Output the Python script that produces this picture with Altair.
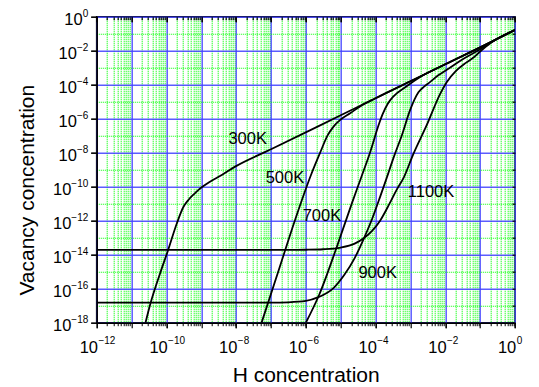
import altair as alt
import numpy as np
import pandas as pd

# ---- values (log10 of H concentration / vacancy concentration)
temps = ["300K", "500K", "700K", "900K", "1100K"]

log_h_300 = [-10.60, -10.47, -10.18, -9.95, -9.70, -9.51, -9.37, -9.20, -9.08, -8.75, -8.40, -8.03, -7.0, -5.0, -3.0, -1.0, 0.0]
log_v_300 = [-18.0, -16.96, -15.09, -13.72, -12.15, -11.18, -10.78, -10.42, -10.19, -9.71, -9.30, -8.82, -7.80, -5.80, -3.80, -1.80, -0.78]

log_h_500 = [-7.27, -6.80, -6.30, -5.85, -5.59, -5.38, -5.20, -5.00, -4.73, -4.40, -4.00, -3.0, -2.0, -1.0, 0.0]
log_v_500 = [-18.0, -15.05, -11.90, -9.30, -8.00, -7.00, -6.45, -6.05, -5.68, -5.22, -4.80, -3.80, -2.80, -1.80, -0.78]

log_h_700 = [-6.00, -5.62, -5.11, -4.68, -4.42, -4.16, -3.90, -3.80, -3.65, -3.50, -3.10, -2.72, -2.0, -1.0, 0.0]
log_v_700 = [-18.0, -16.37, -13.53, -10.98, -9.50, -8.00, -6.30, -5.75, -5.12, -4.72, -4.08, -3.55, -2.80, -1.82, -0.78]

log_h_900 = [-12.0, -7.0, -6.5, -6.0, -5.64, -5.20, -4.90, -4.60, -4.33, -4.10, -3.87, -3.70, -3.45, -3.25, -3.01, -2.77, -2.60, -2.44, -2.20, -1.90, -1.50, -1.0, -0.7, 0.0]
log_v_900 = [-16.82, -16.82, -16.80, -16.72, -16.50, -15.95, -15.20, -14.20, -13.02, -11.90, -10.60, -9.60, -8.10, -7.00, -5.50, -4.45, -4.10, -3.85, -3.45, -3.05, -2.50, -1.92, -1.52, -0.78]

log_h_1100 = [-12.0, -6.5, -6.0, -5.5, -5.0, -4.6, -4.33, -4.10, -3.87, -3.60, -3.40, -3.20, -2.92, -2.53, -2.15, -1.96, -1.70, -1.40, -1.19, -1.0, -0.7, 0.0]
log_v_1100 = [-13.72, -13.72, -13.71, -13.68, -13.58, -13.35, -13.02, -12.60, -12.00, -11.00, -10.20, -9.50, -8.10, -6.37, -4.55, -3.85, -3.20, -2.70, -2.40, -2.05, -1.55, -0.78]

label_text = ["300K", "500K", "700K", "900K", "1100K"]
label_log_h = [-7.67, -6.60, -5.54, -3.94, -2.41]
label_log_v = [-7.19, -9.46, -11.71, -15.09, -10.29]

x_decades = list(range(-12, 1))
y_decades = list(range(-18, 1))

# ---- tables
series = {
    "300K": (log_h_300, log_v_300),
    "500K": (log_h_500, log_v_500),
    "700K": (log_h_700, log_v_700),
    "900K": (log_h_900, log_v_900),
    "1100K": (log_h_1100, log_v_1100),
}
rows = []
for t in temps:
    lh, lv = series[t]
    for a, b in zip(lh, lv):
        rows.append({"T": t, "h": 10.0 ** a, "v": 10.0 ** b})
df = pd.DataFrame(rows)

labels = pd.DataFrame({
    "text": label_text,
    "h": [10.0 ** a for a in label_log_h],
    "v": [10.0 ** b for b in label_log_v],
})

x_major = [10.0 ** k for k in x_decades]
x_even = [10.0 ** k for k in x_decades if k % 2 == 0]
x_minor = [d * 10.0 ** k for k in x_decades[:-1] for d in range(2, 10)]
y_major = [10.0 ** k for k in y_decades if k % 2 == 0]
y_minor = [10.0 ** k for k in y_decades if k % 2 != 0]
y_all = [10.0 ** k for k in y_decades]
# y labels grouped by the length of their exponent ("0", "-2".."-8", "-10".."-18")
y_lab_a = [10.0 ** k for k in [0]]
y_lab_b = [10.0 ** k for k in [-2, -4, -6, -8]]
y_lab_c = [10.0 ** k for k in [-10, -12, -14, -16, -18]]

FONT = "Liberation Sans"
BLUE = "#4040ff"
GREEN = "#00ff00"
BASE_FS = 16.5
EXP_FS = 10

TEN_X = "round(log(datum.value)/LN10) % 2 == 0 ? '10' : ''"
EXP_EXPR = "format(round(log(datum.value)/LN10), 'd')"

xscale = alt.Scale(type="log", domain=[1e-12, 1], nice=False)
yscale = alt.Scale(type="log", domain=[1e-18, 1], nice=False)


def ten_y(values, pad):
    return alt.Axis(
        orient="left", values=values, labelExpr="'10'", labelFontSize=BASE_FS,
        labelFont=FONT, labelColor="black", labelAlign="right", labelBaseline="middle",
        labelOffset=3.0, labelPadding=pad, labelOverlap=False, labelFlush=False,
        tickSize=6, tickColor="black", tickWidth=1.2, domain=False, grid=False, title="")


def top_axis(values, size):
    return alt.Axis(
        orient="top", values=values, labels=False, tickSize=size, tickColor="black",
        tickWidth=1.2, offset=-size, domain=False, grid=False, title="")


right_axis = alt.Axis(
    orient="right", values=y_all, labels=False, tickSize=3, tickColor="black",
    tickWidth=1.2, offset=-3, domain=False, grid=False, title="")

# layer 1: temperature labels (+ green dotted minor grid)
texts = alt.Chart(labels).mark_text(
    font=FONT, fontSize=16.5, color="black", align="center", baseline="middle"
).encode(
    x=alt.X("h:Q", scale=xscale, axis=alt.Axis(
        orient="bottom", values=x_minor, labels=False, tickSize=3, tickColor="black",
        domain=False, grid=True, gridColor=GREEN, gridDash=[1, 1], gridWidth=1.1,
        gridOpacity=1, title="")),
    y=alt.Y("v:Q", scale=yscale, axis=alt.Axis(
        orient="left", values=y_minor, labels=False, ticks=False,
        domain=False, grid=True, gridColor=GREEN, gridDash=[1, 1], gridWidth=1.1,
        gridOpacity=1, title="")),
    text="text:N",
)

# layer 2: the curves (+ blue x grid, "10" parts of the labels)
lines = alt.Chart(df).mark_line(
    color="black", strokeWidth=1.8, clip=True, interpolate="monotone"
).encode(
    x=alt.X("h:Q", scale=xscale, axis=alt.Axis(
        orient="bottom", values=x_major, labelExpr=TEN_X,
        labelOverlap=False, labelFlush=False, labelFontSize=BASE_FS, labelPadding=11.7,
        labelAlign="right", labelOffset=0.8,
        labelColor="black", labelFont=FONT,
        tickSize=5, tickColor="black", tickWidth=1.2,
        domainColor="black", domainWidth=1.5,
        grid=True, gridColor=BLUE, gridWidth=1.5, gridOpacity=0.85,
        title="H concentration", titleFontSize=21, titleFontWeight="normal",
        titleFont=FONT, titleColor="black", titleX=209, titleY=58.5,
        titleBaseline="alphabetic", titleAlign="center")),
    y=alt.Y("v:Q", scale=yscale, axis=ten_y(y_lab_c, 19.9)),
    detail="T:N",
)

# layer 3: exponents of the labels (+ blue y grid, y title)
exps = alt.Chart(labels).mark_point(opacity=0).encode(
    x=alt.X("h:Q", scale=xscale, axis=alt.Axis(
        orient="bottom", values=x_even, labelExpr=EXP_EXPR,
        labelOverlap=False, labelFlush=False, labelFontSize=EXP_FS, labelPadding=8.3,
        labelAlign="left", labelOffset=1.2, labelColor="black", labelFont=FONT,
        tickSize=5, tickColor="black", tickWidth=1.2, domain=False, grid=False, title="")),
    y=alt.Y("v:Q", scale=yscale, axis=alt.Axis(
        orient="left", values=y_major, labelExpr=EXP_EXPR,
        labelOverlap=False, labelFlush=False, labelFontSize=EXP_FS, labelPadding=2.9,
        labelAlign="right", labelBaseline="middle", labelOffset=-3.6,
        labelColor="black", labelFont=FONT,
        tickSize=6, tickColor="black", tickWidth=1.2,
        domainColor="black", domainWidth=1.5,
        grid=True, gridColor=BLUE, gridWidth=1.5, gridOpacity=0.85,
        title="Vacancy concentration", titleFontSize=21, titleFontWeight="normal",
        titleFont=FONT, titleColor="black", titleAngle=270, titleX=-63.7, titleY=173,
        titleBaseline="alphabetic", titleAlign="center")),
)

# layers 4-6: inner ticks on top/right and the remaining "10" label groups
extra_a = alt.Chart(labels).mark_point(opacity=0).encode(
    x=alt.X("h:Q", scale=xscale, axis=top_axis(x_major, 5)),
    y=alt.Y("v:Q", scale=yscale, axis=ten_y(y_lab_a, 8.5)),
)
extra_b = alt.Chart(labels).mark_point(opacity=0).encode(
    x=alt.X("h:Q", scale=xscale, axis=top_axis(x_minor, 3)),
    y=alt.Y("v:Q", scale=yscale, axis=ten_y(y_lab_b, 14.3)),
)
extra_c = alt.Chart(labels).mark_point(opacity=0).encode(
    x=alt.X("h:Q", scale=xscale, axis=top_axis(x_major, 5)),
    y=alt.Y("v:Q", scale=yscale, axis=right_axis),
)

chart = alt.layer(texts, lines, exps, extra_a, extra_b, extra_c).resolve_axis(
    x="independent", y="independent"
).properties(
    width=418.3, height=306,
    padding={"left": 96.7, "top": 16.7, "right": 24, "bottom": 64},
    autosize=alt.AutoSizeParams(type="none"),
    background="white",
).configure_view(stroke="black", strokeWidth=1.6)

chart.save("out.html", embed_options={"renderer": "svg", "actions": False})
